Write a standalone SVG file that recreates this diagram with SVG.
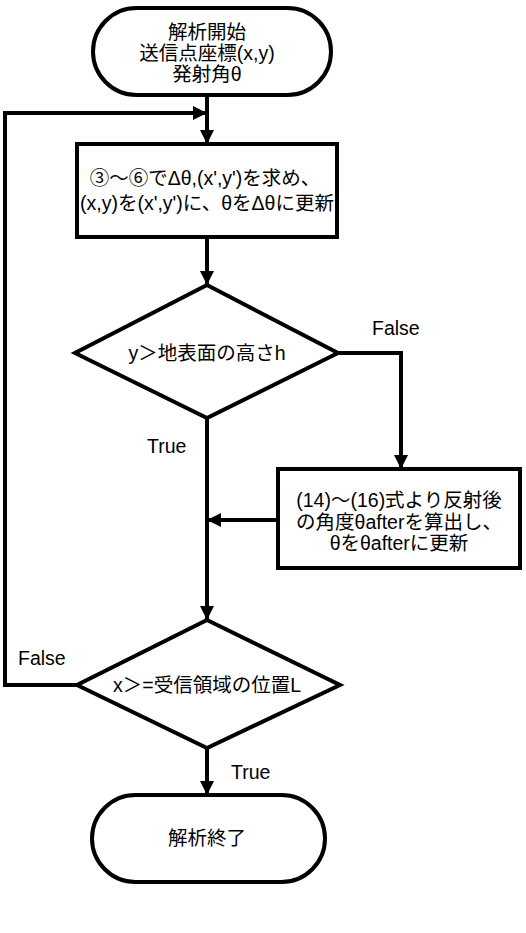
<svg xmlns="http://www.w3.org/2000/svg" width="526" height="933" viewBox="0 0 526 933">
<style>
.shape{fill:#fff;stroke:#000;stroke-width:4}
.conn{fill:none;stroke:#000;stroke-width:4}
text{font-family:"Liberation Sans","Noto Sans CJK JP",sans-serif;font-size:19.5px;fill:#000;text-anchor:middle}
.lbl{text-anchor:start}
</style>
<defs>
<marker id="arr" markerUnits="userSpaceOnUse" markerWidth="14" markerHeight="14" viewBox="0 0 14 14" refX="14" refY="7" orient="auto">
<path d="M0,0 L14,7 L0,14 Z" fill="#000"/>
</marker>
</defs>
<rect width="526" height="933" fill="#fff"/>
<g id="connectors">
<path class="conn" d="M207,95 V144" marker-end="url(#arr)"/>
<path class="conn" d="M207,237 V285" marker-end="url(#arr)"/>
<path class="conn" d="M207,418 V620" marker-end="url(#arr)"/>
<path class="conn" d="M338,353 H401 V469" marker-end="url(#arr)"/>
<path class="conn" d="M278,520 H207" marker-end="url(#arr)"/>
<path class="conn" d="M77,685 H5 V113 H207" marker-end="url(#arr)"/>
<path class="conn" d="M207,748 V795" marker-end="url(#arr)"/>
</g>
<g id="start">
<rect class="shape" x="93" y="8" width="238" height="87" rx="43.5"/>
<text x="207" y="39">解析開始</text>
<text x="207" y="60">送信点座標(x,y)</text>
<text x="207" y="81">発射角θ</text>
</g>
<g id="update">
<rect class="shape" x="77" y="144" width="260" height="93"/>
<text x="205" y="185">③～⑥でΔθ,(x',y')を求め、</text>
<text x="207" y="210">(x,y)を(x',y')に、θをΔθに更新</text>
</g>
<g id="cond1">
<polygon class="shape" points="207,285 338,353 207,418 75,353"/>
<text x="207" y="360">y＞地表面の高さh</text>
</g>
<g id="reflect">
<rect class="shape" x="278" y="469" width="242" height="99"/>
<text x="399" y="507">(14)～(16)式より反射後</text>
<text x="399" y="529">の角度θafterを算出し、</text>
<text x="399" y="550">θをθafterに更新</text>
</g>
<g id="cond2">
<polygon class="shape" points="207,620 340,685 207,748 77,685"/>
<text x="207" y="692">x＞=受信領域の位置L</text>
</g>
<g id="end">
<rect class="shape" x="92" y="795" width="233" height="87" rx="43.5"/>
<text x="207" y="845">解析終了</text>
</g>
<g id="labels">
<text class="lbl" x="372" y="335">False</text>
<text class="lbl" x="147" y="453">True</text>
<text class="lbl" x="18" y="665">False</text>
<text class="lbl" x="231" y="779">True</text>
</g>
</svg>
